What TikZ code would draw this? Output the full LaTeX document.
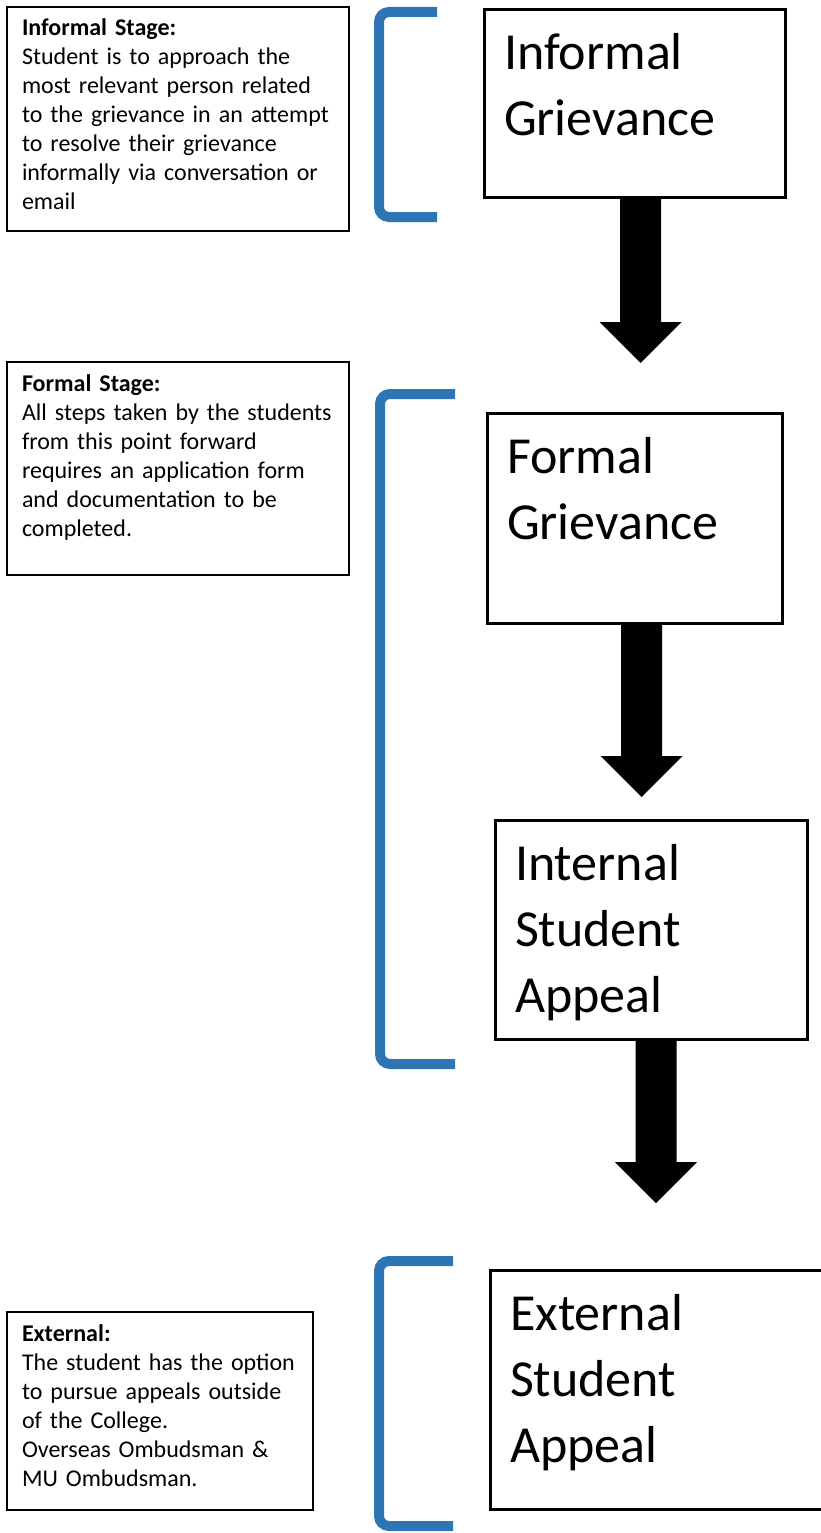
\documentclass[tikz,border=0pt]{standalone}
\usepackage{fontspec}
\setmainfont{Carlito}
\usetikzlibrary{calc,positioning}
\definecolor{bracketblue}{RGB}{46,117,182}
\newcommand{\notefont}{\fontsize{24}{29}\selectfont}
\newcommand{\stagefont}{\fontsize{52}{66}\selectfont}
% block arrow from #1 down to the tip #2
\newcommand{\flowarrow}[2]{%
  \fill let \p1=(#1), \p2=(#2) in
    (\x2-20.5pt,\y1) -- (\x2+20.5pt,\y1) -- (\x2+20.5pt,\y2+41pt)
    -- (\x2+41pt,\y2+41pt) -- (\x2,\y2) -- (\x2-41pt,\y2+41pt)
    -- (\x2-20.5pt,\y2+41pt) -- cycle;}

\begin{document}
\begin{tikzpicture}[x=1pt, y=-1pt,
    note/.style={draw, line width=1.5pt, anchor=north west, outer sep=0pt,
      inner xsep=15pt, inner ysep=0pt, align=left, font=\notefont, text height=29pt},
    stage/.style={draw, line width=3pt, anchor=north west, outer sep=0pt,
      inner xsep=20pt, inner ysep=0pt, align=left, font=\stagefont, text height=60pt},
    stagebracket/.style={draw=bracketblue, line width=10pt, rounded corners=10pt}]
    \useasboundingbox (0,0) rectangle (820,1533);

    % notes on the left
    \node[note, text width=312pt, text depth=195pt] (informalnote) at (7,7)
      {\textbf{Informal Stage:}\\Student is to approach the\\most relevant person related\\to the grievance in an attempt\\to resolve their grievance\\informally via conversation or\\email};
    \node[note, text width=312pt, text depth=184pt] (formalnote) at (7,362)
      {\textbf{Formal Stage:}\\All steps taken by the students\\from this point forward\\requires an application form\\and documentation to be\\completed.};
    \node[note, text width=276pt, text depth=169pt] (externalnote) at (7,1312)
      {\textbf{External:}\\The student has the option\\to pursue appeals outside\\of the College.\\Overseas Ombudsman \&\\MU Ombudsman.};

    % brackets
    \draw[stagebracket] (437,12) -- (379,12) -- (379,217) -- (437,217);
    \draw[stagebracket] (455,394) -- (380,394) -- (380,1064) -- (455,1064);
    \draw[stagebracket] (453,1261) -- (379,1261) -- (379,1526) -- (453,1526);

    % stages
    \node[stage, text width=261pt, text depth=128pt] (informal) at (484,10)
      {Informal\\Grievance};
    \node[stage, text width=255pt, text depth=150pt] (formal) at (487,413)
      {Formal\\Grievance};
    \node[stage, text width=272pt, text depth=159pt] (internal) at (495,820)
      {Internal\\Student\\Appeal};
    \node[stage, text width=310pt, text depth=179pt] (external) at (490,1270)
      {External\\Student\\Appeal};

    % arrows
    \coordinate (tip1) at (640.5,363);
    \coordinate (tip2) at (641.5,797);
    \coordinate (tip3) at (656,1203);
    \flowarrow{tip1 |- informal.south}{tip1}
    \flowarrow{tip2 |- formal.south}{tip2}
    \flowarrow{tip3 |- internal.south}{tip3}
\end{tikzpicture}
\end{document}
